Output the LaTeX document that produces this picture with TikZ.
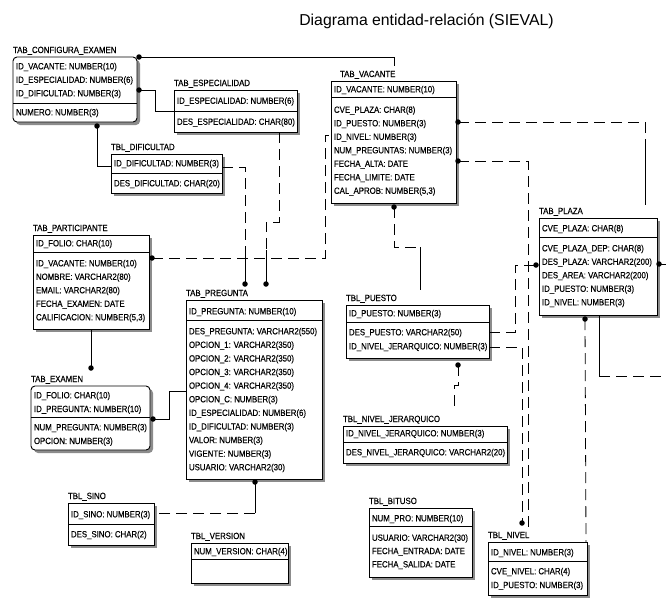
\documentclass[tikz,border=0pt]{standalone}
\usepackage{fontspec}
\setmainfont{Liberation Sans}
\newfontfamily\erfont[FakeStretch=0.87,FakeBold=0.3]{Liberation Sans}
\usetikzlibrary{calc}

% one entity box: shadow, frame, divider under the key columns, title above
\newcommand\ertable[8][]{%
  \fill[tblshadow,#1] ({#3+3},{#4+3}) rectangle ({#5+3},{#6+3});
  \node[tblbox,#1,anchor=north west,minimum width={#5-#3},minimum height={#6-#4}] (#2) at (#3,#4) {};
  \draw[tblline] (#3,#7) -- (#5,#7);
  \node[rowtext] (#2-title) at (#3,{#4-4}) {#8};
}
% a run of column rows: prefix, x, centre of first row, row pitch, list
\newcommand\errows[5]{%
  \foreach [count=\i] \r in {#5} {\node[rowtext] (#1-\i) at ({#2},{#3+(\i-1)*#4+3.3}) {\r};}
}

\begin{document}
\begin{tikzpicture}[x=1pt,y=-1pt,
  every node/.style={inner sep=0pt,outer sep=0pt},
  tblbox/.style={draw=black,line width=0.9pt,fill=white},
  tblline/.style={line width=0.9pt},
  tblshadow/.style={fill=black!45},
  rowtext/.style={font=\erfont\fontsize{9}{10}\selectfont,anchor=base west},
  rel/.style={line width=0.8pt,draw=black},
  opt/.style={rel,dash pattern=on 11pt off 6pt},
  dot/.style={circle,fill=black,minimum size=5.5pt,inner sep=0pt},
]
\useasboundingbox[fill=white] (0,0) rectangle (666,597);

\node[font=\fontsize{15.8}{18}\selectfont,anchor=base] (title) at (426.5,25.5) {Diagrama entidad-relación (SIEVAL)};

% ---------- entities ----------
\ertable[rounded corners=4pt]{cfg}{13}{57}{137}{122}{103}{TAB\_CONFIGURA\_EXAMEN}
\errows{cfg-k}{16}{66}{13.5}{{ID\_VACANTE: NUMBER(10)},{ID\_ESPECIALIDAD: NUMBER(6)},{ID\_DIFICULTAD: NUMBER(3)}}
\errows{cfg-a}{16}{112}{13.5}{{NUMERO: NUMBER(3)}}

\ertable{esp}{174}{90}{297}{132}{111}{TAB\_ESPECIALIDAD}
\errows{esp-k}{177}{100.5}{13.5}{{ID\_ESPECIALIDAD: NUMBER(6)}}
\errows{esp-a}{177}{121.5}{13.5}{{DES\_ESPECIALIDAD: CHAR(80)}}

\ertable{dif}{111}{154}{222}{193}{173}{TBL\_DIFICULTAD}
\errows{dif-k}{114}{163}{13.5}{{ID\_DIFICULTAD: NUMBER(3)}}
\errows{dif-a}{114}{183}{13.5}{{DES\_DIFICULTAD: CHAR(20)}}

\ertable{vac}{331}{81}{456}{203}{97}{\hspace*{9pt}TAB\_VACANTE}
\errows{vac-k}{334}{89}{13.5}{{ID\_VACANTE: NUMBER(10)}}
\errows{vac-a}{334}{109.5}{13.5}{{CVE\_PLAZA: CHAR(8)},{ID\_PUESTO: NUMBER(3)},{ID\_NIVEL: NUMBER(3)},{NUM\_PREGUNTAS: NUMBER(3)},{FECHA\_ALTA: DATE},{FECHA\_LIMITE: DATE},{CAL\_APROB: NUMBER(5,3)}}

\ertable{plz}{539}{218}{657}{315}{237}{TAB\_PLAZA}
\errows{plz-k}{542}{228}{13.5}{{CVE\_PLAZA: CHAR(8)}}
\errows{plz-a}{542}{248}{13.5}{{CVE\_PLAZA\_DEP: CHAR(8)},{DES\_PLAZA: VARCHAR2(200)},{DES\_AREA: VARCHAR2(200)},{ID\_PUESTO: NUMBER(3)},{ID\_NIVEL: NUMBER(3)}}

\ertable{par}{33}{235}{149}{329}{252}{TAB\_PARTICIPANTE}
\errows{par-k}{36}{243}{13.5}{{ID\_FOLIO: CHAR(10)}}
\errows{par-a}{36}{263}{13.5}{{ID\_VACANTE: NUMBER(10)},{NOMBRE: VARCHAR2(80)},{EMAIL: VARCHAR2(80)},{FECHA\_EXAMEN: DATE},{CALIFICACION: NUMBER(5,3)}}

\ertable[rounded corners=4pt]{exa}{31}{386}{150}{450}{417}{TAB\_EXAMEN}
\errows{exa-k}{34}{395}{13.7}{{ID\_FOLIO: CHAR(10)},{ID\_PREGUNTA: NUMBER(10)}}
\errows{exa-a}{34}{427}{13.7}{{NUM\_PREGUNTA: NUMBER(3)},{OPCION: NUMBER(3)}}

\ertable{pre}{186}{300}{322}{479}{320}{TAB\_PREGUNTA}
\errows{pre-k}{189}{311}{13.6}{{ID\_PREGUNTA: NUMBER(10)}}
\errows{pre-a}{189}{331}{13.6}{{DES\_PREGUNTA: VARCHAR2(550)},{OPCION\_1: VARCHAR2(350)},{OPCION\_2: VARCHAR2(350)},{OPCION\_3: VARCHAR2(350)},{OPCION\_4: VARCHAR2(350)},{OPCION\_C: NUMBER(3)},{ID\_ESPECIALIDAD: NUMBER(6)},{ID\_DIFICULTAD: NUMBER(3)},{VALOR: NUMBER(3)},{VIGENTE: NUMBER(3)},{USUARIO: VARCHAR2(30)}}

\ertable{pue}{346}{305}{489}{358}{322}{TBL\_PUESTO}
\errows{pue-k}{349}{313}{13.5}{{ID\_PUESTO: NUMBER(3)}}
\errows{pue-a}{349}{332}{14}{{DES\_PUESTO: VARCHAR2(50)},{ID\_NIVEL\_JERARQUICO: NUMBER(3)}}

\ertable{njr}{343}{426}{507}{463}{442}{TBL\_NIVEL\_JERARQUICO}
\errows{njr-k}{346}{433}{13.5}{{ID\_NIVEL\_JERARQUICO: NUMBER(3)}}
\errows{njr-a}{346}{452}{13.5}{{DES\_NIVEL\_JERARQUICO: VARCHAR2(20)}}

\ertable{sin}{68}{503}{154}{545}{524}{TBL\_SINO}
\errows{sin-k}{71}{514}{13.5}{{ID\_SINO: NUMBER(3)}}
\errows{sin-a}{71}{534}{13.5}{{DES\_SINO: CHAR(2)}}

\ertable{ver}{191}{543}{288}{583}{559}{TBL\_VERSION}
\errows{ver-k}{194}{551}{13.5}{{NUM\_VERSION: CHAR(4)}}

\ertable{bit}{369}{508}{472}{577}{526}{TBL\_BITUSO}
\errows{bit-k}{372}{518}{13.5}{{NUM\_PRO: NUMBER(10)}}
\errows{bit-a}{372}{537.5}{13.3}{{USUARIO: VARCHAR2(30)},{FECHA\_ENTRADA: DATE},{FECHA\_SALIDA: DATE}}

\ertable{niv}{488}{542}{587}{595}{561}{TBL\_NIVEL}
\errows{niv-k}{491}{552}{13.5}{{ID\_NIVEL: NUMBER(3)}}
\errows{niv-a}{491}{571}{13.8}{{CVE\_NIVEL: CHAR(4)},{ID\_PUESTO: NUMBER(3)}}

% ---------- relationship ends (many side) ----------
\node[dot] (d1) at (139,57) {};
\node[dot] (d2) at (139,90) {};
\node[dot] (d3) at (97,126) {};
\node[dot] (d4) at (245,284) {};
\node[dot] (d5) at (266,284) {};
\node[dot] (d6) at (152,258) {};
\node[dot] (d7) at (458,122) {};
\node[dot] (d8) at (458,161) {};
\node[dot] (d9) at (394,207) {};
\node[dot] (d10) at (536,265) {};
\node[dot] (d11) at (522,523) {};
\node[dot] (d12) at (659,264) {};
\node[dot] (d13) at (585,319) {};
\node[dot] (d14) at (458,365) {};
\node[dot] (d15) at (255,482) {};
\node[dot] (d16) at (91,368) {};
\node[dot] (d17) at (153,419) {};

% ---------- attachment points ----------
\coordinate (vac-top) at (394,66);
\coordinate (esp-l) at (174,111);
\coordinate (dif-l) at (111,166);
\coordinate (dif-r) at (222,167);
\coordinate (esp-b) at (279,132);
\coordinate (vac-l) at (331,135);
\coordinate (plz-top) at (645,205);
\coordinate (niv-top) at (528,527);
\coordinate (pue-top) at (420,290);
\coordinate (pue-r1) at (489,332);
\coordinate (pue-r2) at (489,347);
\coordinate (plz-r) at (666,264);
\coordinate (plz-b) at (599,315);
\coordinate (plz-edge) at (666,376);
\coordinate (niv-ne) at (586,542);
\coordinate (njr-top) at (454,412);
\coordinate (sin-r) at (154,513);
\coordinate (par-b) at (91,329);
\coordinate (pre-l) at (186,391);
\coordinate (c4m) at (245,250);
\coordinate (c5m) at (266,250);
\coordinate (c7m) at (645,146);
\coordinate (c9m) at (420,247);

% ---------- relationships ----------
\draw[rel] (d1.center) -| (vac-top);
\draw[rel] (d2.center) -- ++(16,0) |- (esp-l);
\draw[rel] (d3.center) |- (dif-l);
\draw[opt] (dif-r) -| (c4m);
\draw[rel] (c4m) -- (d4.center);
\draw[opt] (esp-b) -- ++(0,90) -| (c5m);
\draw[rel] (c5m) -- (d5.center);
\draw[opt] (d6.center) -- ++(173,0) |- (vac-l);
\draw[opt] (d7.center) -| (c7m);
\draw[rel] (c7m) -- (plz-top);
\draw[opt] (d8.center) -| (niv-top);
\draw[opt] (d9.center) |- (c9m);
\draw[rel] (c9m) -- (pue-top);
\draw[opt] (pue-r1) -- ++(26,0) |- (d10.center);
\draw[opt] (pue-r2) -| (d11.center);
\draw[opt] (d12.center) -- (plz-r);
\draw[rel] (plz-b) -- ++(0,61) coordinate (c13m);
\draw[opt] (c13m) -- (plz-edge);
\draw[opt] (d14.center) -- ++(0,20) -| (njr-top);
\draw[opt] (d13.center) -- (niv-ne);
\draw[rel] (d15.center) -- ++(0,31) coordinate (c16m);
\draw[opt] (c16m) -- (sin-r);
\draw[rel] (par-b) -- (d16.center);
\draw[rel] (d17.center) -- ++(16,0) |- (pre-l);
\end{tikzpicture}
\end{document}
